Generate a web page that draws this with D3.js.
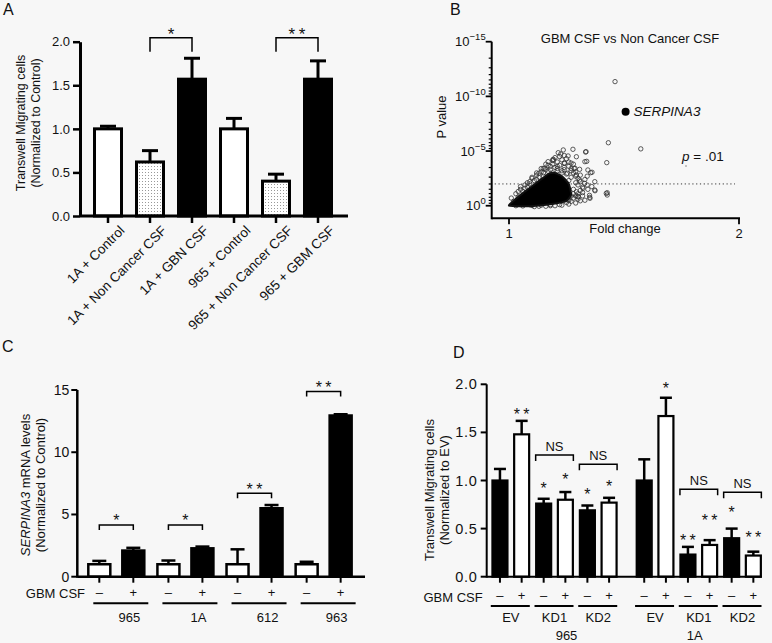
<!DOCTYPE html>
<html><head><meta charset="utf-8">
<script src="https://cdn.jsdelivr.net/npm/d3@7"></script>
<style>
html,body{margin:0;padding:0;background:#f7f7f7;}
svg{display:block;font-family:"Liberation Sans",Arial,Helvetica,sans-serif;}
text{fill:#111;}
</style></head>
<body>
<svg id="fig" width="772" height="643"></svg>
<script>
// ---------------- DATA ----------------
// Panel A
const aCategories = ["1A + Control","1A + Non Cancer CSF","1A + GBN CSF","965 + Control","965 + Non Cancer CSF","965 + GBM CSF"];
const aTreatment = ["Control","Non Cancer CSF","GBM CSF","Control","Non Cancer CSF","GBM CSF"];
const aValues = [1.0, 0.62, 1.57, 1.0, 0.40, 1.57];
const aErrTop = [1.03, 0.75, 1.81, 1.12, 0.48, 1.78];
const aTicks = [0, 0.5, 1.0, 1.5, 2.0];
const aSigFrom = [1, 4], aSigTo = [2, 5], aSigLabel = ["*", "**"], aSigLevel = [2.045, 2.045];

// Panel B (fold change, -log10 p)
const bOutFold = [1.278,1.333,1.225,1.257,1.293,1.191,1.17,1.242,1.338,1.155,1.283,1.307,1.343,1.361,1.13,1.254,1.293,1.307,1.373,1.329,1.322,1.343,1.373,1.293,1.271,1.3,1.257,1.351,1.335,1.33,1.355,1.374,1.352,1.301,1.261,1.214,1.236,1.193,1.287,1.149,1.425,1.432,1.461,1.573,1.427,1.427,1.423];
const bOutExp  = [5.16,4.91,4.73,4.55,4.48,4.12,4.03,3.88,4.06,3.42,3.42,3.33,3.27,3.06,2.97,2.97,2.81,2.35,2.2,2.05,1.59,1.5,1.44,1.28,0.89,0.82,0.52,0.77,4.94,4.03,3.02,1.37,0.68,0.83,0.52,4.85,5.1,4.24,3.42,3.42,3.94,5.76,11.35,5.2,1.19,0.98,1.13];
const bEdgeFold = [1.03,1.05,1.07,1.09,1.1,1.12,1.14,1.16,1.18,1.19,1.21,1.2,1.22,1.23,1.24,1.25,1.26,1.24,1.26,1.27,1.28,1.27,1.28,1.29,1.3,1.31,1.3,1.32,1.31,1.3,1.29,1.28,1.27,1.25,1.22,1.18,1.13,1.1,1.06,1.03,1.15,1.17,1.13,1.11,1.08,1.06,1.04,1.02,1.33,1.34,1.32,1.32,1.28,1.29,1.27,1.25,1.23,1.21,1.2,1.19,1.16,1.24,1.22,
  1.01,1.04,1.07,1.09,1.12,1.15,1.18,1.21,1.24,1.27,1.29,1.31,1.26,1.23,1.21,1.19,1.17,1.14,1.12,1.1,1.08,1.05,1.22,1.25,1.28,1.3,1.33,1.35,1.36,1.34,1.31,1.29,1.26,1.23,1.2,1.18,1.16,1.14,1.11,1.09];
const bEdgeExp  = [1.1,1.5,1.9,2.2,2.5,2.8,3.1,3.3,3.6,3.8,4.0,3.5,3.7,4.2,3.9,4.3,4.0,3.5,3.6,3.9,3.8,3.2,3.0,2.7,2.5,2.2,1.9,1.7,1.4,1.1,0.9,0.7,0.4,0.3,0.1,0.0,-0.05,0.02,-0.02,0.0,3.0,3.15,2.6,2.3,1.7,1.3,0.8,0.4,2.4,1.9,1.2,0.9,1.5,2.1,2.6,2.9,3.2,3.4,4.4,4.2,3.8,4.6,4.5,
  0.7,1.3,1.6,2.0,2.4,2.7,3.3,3.6,3.3,3.4,3.1,2.8,2.3,3.0,3.2,3.0,3.7,3.4,3.0,2.6,2.1,1.75,2.5,1.6,1.1,0.6,0.5,0.95,1.75,2.7,0.45,0.25,0.15,0.05,0.0,0.1,-0.05,0.05,-0.08,0.1];
const bCoreFold = [1.0,1.06,1.12,1.2,1.25,1.27,1.26,1.23,1.2,1.17,1.12,1.06,1.02];
const bCoreExp  = [0.0,-0.05,0.0,0.2,0.45,1.0,2.0,2.7,3.0,2.9,2.1,1.15,0.45];
const bHighlight = {name:"SERPINA3", fold:1.507, exp:8.6};
const bThresholdExp = 2; // p = .01
const bYTicks = [0, 5, 10, 15];
const bXTicks = [1, 2];

// Panel C
const cGroups = ["965","1A","612","963"];
const cMinus = [1.0, 1.0, 1.0, 1.0];
const cMinusErr = [1.27, 1.3, 2.2, 1.2];
const cPlus = [2.1, 2.28, 5.5, 12.95];
const cPlusErr = [2.32, 2.42, 5.76, 13.05];
const cTicks = [0, 5, 10, 15];
const cSigLabel = ["*","*","**","**"];
const cSigLevel = [4.16, 4.16, 6.7, 14.87];

// Panel D
const dGroups = ["EV","KD1","KD2","EV","KD1","KD2"];
const dLines = ["965","965","965","1A","1A","1A"];
const dMinus = [1.0, 0.76, 0.69, 1.0, 0.23, 0.40];
const dMinusErr = [1.12, 0.81, 0.74, 1.22, 0.31, 0.50];
const dPlus = [1.48, 0.80, 0.77, 1.67, 0.33, 0.22];
const dPlusErr = [1.62, 0.88, 0.82, 1.86, 0.38, 0.26];
const dMinusStar = ["", "*", "*", "", "**", "*"];
const dPlusStar = ["**", "*", "*", "*", "**", "**"];
const dMinusStarLevel = [null, 0.953, 0.894, null, 0.416, 0.711];
const dPlusStarLevel = [1.726, 1.05, 0.977, 2.0, 0.624, 0.444];
const dNSLevel = [null, 1.265, 1.17, null, 0.91, 0.877];
const dTicks = [0, 0.5, 1.0, 1.5, 2.0];
const dCellLines = ["965","1A"];

// ---------------- DRAW ----------------
const svg = d3.select("#fig");
svg.append("rect").attr("width",772).attr("height",643).attr("fill","#f7f7f7");
const defs = svg.append("defs");
const pat = defs.append("pattern").attr("id","dots").attr("patternUnits","userSpaceOnUse").attr("width",3).attr("height",3);
pat.append("rect").attr("width",3).attr("height",3).attr("fill","#fff");
pat.append("rect").attr("x",1).attr("y",1).attr("width",1).attr("height",1).attr("fill","#999");

// significance stars: each asterisk is its own text element
function star(g, x, yc, label, fs) {
  const n = label.length, gap = fs*0.6;
  for (let k = 0; k < n; k++) {
    g.append("text").attr("x", x + (k - (n-1)/2)*gap).attr("y", yc + fs*0.58)
     .attr("text-anchor","middle").attr("fill","#000").attr("font-size", fs).text("*");
  }
}
function panelLetter(t, x, y) {
  svg.append("text").attr("x",x).attr("y",y).attr("font-size",16).text(t);
}

// ===== Panel A =====
(function(){
  const g = svg.append("g");
  const y = d3.scaleLinear().domain([0,2]).range([216,41.7]);
  const x = d3.scalePoint().domain(aCategories).range([108,318]);
  const bw = 27;
  const fillFor = t => t==="Control" ? "#fff" : (t==="GBM CSF" ? "#000" : "url(#dots)");
  const ax = g.append("g").attr("transform","translate(80,0)")
    .call(d3.axisLeft(y).tickValues(aTicks).tickFormat(d3.format(".1f")).tickSize(7).tickSizeOuter(0));
  ax.select(".domain").attr("stroke-width",3);
  ax.selectAll(".tick line").attr("stroke-width",2.5);
  ax.selectAll(".tick text").attr("font-size",13).attr("font-family","inherit").attr("fill","#111").attr("x",-10);
  aCategories.forEach((c,i)=>{
    const cx = x(c);
    g.append("line").attr("x1",cx).attr("x2",cx).attr("y1",y(aValues[i])).attr("y2",y(aErrTop[i])).attr("stroke","#000").attr("stroke-width",3);
    g.append("line").attr("x1",cx-8).attr("x2",cx+8).attr("y1",y(aErrTop[i])).attr("y2",y(aErrTop[i])).attr("stroke","#000").attr("stroke-width",3);
    g.append("rect").attr("x",cx-bw/2).attr("width",bw).attr("y",y(aValues[i])).attr("height",y(0)-y(aValues[i]))
      .attr("fill",fillFor(aTreatment[i])).attr("stroke","#000").attr("stroke-width",3);
    g.append("line").attr("x1",cx).attr("x2",cx).attr("y1",y(0)).attr("y2",y(0)+7).attr("stroke","#000").attr("stroke-width",2.5);
    g.append("text").attr("transform",`translate(${cx+14},${y(0)+12}) rotate(-45)`).attr("text-anchor","end")
      .attr("dy","0.35em").attr("font-size",13.5).text(c);
  });
  g.append("line").attr("x1",80).attr("x2",348).attr("y1",y(0)).attr("y2",y(0)).attr("stroke","#000").attr("stroke-width",3);
  aSigFrom.forEach((f,i)=>{
    const x1 = x(aCategories[f]), x2 = x(aCategories[aSigTo[i]]), yy = y(aSigLevel[i]);
    g.append("path").attr("d",`M${x1},${yy+14}V${yy}H${x2}V${yy+14}`).attr("fill","none").attr("stroke","#000").attr("stroke-width",1.5);
    star(g,(x1+x2)/2, yy-8, aSigLabel[i], 17);
  });
  const yl = g.append("text").attr("transform","translate(25,123) rotate(-90)").attr("text-anchor","middle").attr("font-size",12.5);
  yl.append("tspan").attr("x",0).attr("dy","0").text("Transwell Migrating cells");
  yl.append("tspan").attr("x",0).attr("dy","1.2em").text("(Normalized to Control)");
  panelLetter("A",3,15);
})();

// ===== Panel B =====
(function(){
  const g = svg.append("g");
  const x = d3.scaleLinear().domain([1,2]).range([509,739]);
  const y = d3.scaleLinear().domain([-1.15,15]).range([218.3,41.7]);
  const x0 = 491.7;
  const minor = [];
  [0,5,10].forEach(e=>{ for(let k=2;k<=9;k++) minor.push(e + 5*(1-Math.log10(k))); });
  g.selectAll(".mt").data(minor).join("line").attr("x1",x0-3).attr("x2",x0).attr("y1",d=>y(d)).attr("y2",d=>y(d)).attr("stroke","#000").attr("stroke-width",1.2);
  bYTicks.forEach(t=>{
    g.append("line").attr("x1",x0-6).attr("x2",x0).attr("y1",y(t)).attr("y2",y(t)).attr("stroke","#000").attr("stroke-width",1.8);
    const tx = g.append("text").attr("x",x0-6).attr("y",y(t)+4.5).attr("text-anchor","end").attr("font-size",13);
    tx.append("tspan").text("10");
    tx.append("tspan").attr("dy",-6).attr("font-size",9.5).text(t===0 ? "0" : "\u2212"+t);
  });
  bXTicks.forEach(t=>{
    g.append("line").attr("x1",x(t)).attr("x2",x(t)).attr("y1",y(-1.15)).attr("y2",y(-1.15)+6).attr("stroke","#000").attr("stroke-width",1.8);
    g.append("text").attr("x",x(t)).attr("y",238).attr("text-anchor","middle").attr("font-size",13).text(t);
  });
  g.append("line").attr("x1",x0+3).attr("x2",735).attr("y1",y(bThresholdExp)).attr("y2",y(bThresholdExp))
    .attr("stroke","#888").attr("stroke-width",1.6).attr("stroke-dasharray","1.2,2.6");
  const pts = bEdgeFold.map((f,i)=>[f,bEdgeExp[i]]).concat(bOutFold.map((f,i)=>[f,bOutExp[i]]));
  g.selectAll(".pt").data(pts).join("circle").attr("cx",d=>x(d[0])).attr("cy",d=>y(d[1])).attr("r",2.2)
    .attr("fill","none").attr("stroke","#333").attr("stroke-width",0.8);
  const core = bCoreFold.map((f,i)=>[x(f),y(bCoreExp[i])]);
  g.append("path").attr("d", d3.line().curve(d3.curveCardinalClosed.tension(0.5))(core)).attr("fill","#000").attr("stroke","#111").attr("stroke-width",2).attr("stroke-linejoin","round");
  g.append("circle").attr("cx",x(bHighlight.fold)).attr("cy",y(bHighlight.exp)).attr("r",4).attr("fill","#000");
  g.append("text").attr("x",x(bHighlight.fold)+8).attr("y",y(bHighlight.exp)+4.5).attr("font-size",13.5).attr("font-style","italic").text(bHighlight.name);
  g.append("line").attr("x1",x0).attr("x2",x0).attr("y1",y(15)).attr("y2",y(-1.15)+1).attr("stroke","#000").attr("stroke-width",2);
  g.append("line").attr("x1",x0).attr("x2",x(2)+1).attr("y1",y(-1.15)).attr("y2",y(-1.15)).attr("stroke","#000").attr("stroke-width",2);
  g.append("text").attr("x",630).attr("y",43).attr("text-anchor","middle").attr("font-size",13).text("GBM CSF vs Non Cancer CSF");
  g.append("text").attr("x",625).attr("y",233).attr("text-anchor","middle").attr("font-size",13).text("Fold change");
  g.append("text").attr("transform","translate(446,117) rotate(-90)").attr("text-anchor","middle").attr("font-size",13).text("P value");
  const pt = g.append("text").attr("x",682).attr("y",161).attr("font-size",13.5);
  pt.append("tspan").attr("font-style","italic").text("p");
  pt.append("tspan").text(" = .01");
  g.append("circle").attr("cx",686).attr("cy",166).attr("r",0.7).attr("fill","#666");
  panelLetter("B",450,15);
})();

// ===== Panel C =====
(function(){
  const g = svg.append("g");
  const y = d3.scaleLinear().domain([0,15]).range([576.7,390]);
  const gx = d3.scaleBand().domain(cGroups).range([81.75,358.2]);
  const half = 17, bw = 22;
  const x0 = 77.3;
  cTicks.forEach(t=>{
    g.append("line").attr("x1",x0-6).attr("x2",x0).attr("y1",y(t)).attr("y2",y(t)).attr("stroke","#000").attr("stroke-width",2);
    g.append("text").attr("x",x0-8).attr("y",y(t)+5).attr("text-anchor","end").attr("font-size",14).text(t);
  });
  cGroups.forEach((grp,i)=>{
    const c = gx(grp)+gx.bandwidth()/2;
    const bars = [{cx:c-half,v:cMinus[i],e:cMinusErr[i],fill:"#fff",s:"\u2013"},{cx:c+half,v:cPlus[i],e:cPlusErr[i],fill:"#000",s:"+"}];
    bars.forEach(b=>{
      g.append("line").attr("x1",b.cx).attr("x2",b.cx).attr("y1",y(b.v)).attr("y2",y(b.e)).attr("stroke","#000").attr("stroke-width",2.5);
      g.append("line").attr("x1",b.cx-7).attr("x2",b.cx+7).attr("y1",y(b.e)).attr("y2",y(b.e)).attr("stroke","#000").attr("stroke-width",2.5);
      g.append("rect").attr("x",b.cx-bw/2).attr("width",bw).attr("y",y(b.v)).attr("height",y(0)-y(b.v)).attr("fill",b.fill).attr("stroke","#000").attr("stroke-width",2.5);
      g.append("line").attr("x1",b.cx).attr("x2",b.cx).attr("y1",y(0)).attr("y2",y(0)+6).attr("stroke","#000").attr("stroke-width",2);
      g.append("text").attr("x",b.cx).attr("y",597).attr("text-anchor","middle").attr("font-size",13).text(b.s);
    });
    const yy = y(cSigLevel[i]);
    g.append("path").attr("d",`M${c-half},${yy+5}V${yy}H${c+half}V${yy+5}`).attr("fill","none").attr("stroke","#000").attr("stroke-width",1.5);
    star(g,c,yy-8,cSigLabel[i],16);
    g.append("line").attr("x1",c-half-6).attr("x2",c+half+15).attr("y1",603.3).attr("y2",603.3).attr("stroke","#000").attr("stroke-width",2);
    g.append("text").attr("x",c+half-4).attr("y",621.7).attr("text-anchor","middle").attr("font-size",13).text(grp);
  });
  g.append("line").attr("x1",x0).attr("x2",x0).attr("y1",y(15)).attr("y2",y(0)+1).attr("stroke","#000").attr("stroke-width",2.5);
  g.append("line").attr("x1",x0).attr("x2",365).attr("y1",y(0)).attr("y2",y(0)).attr("stroke","#000").attr("stroke-width",2.5);
  g.append("text").attr("x",85).attr("y",598).attr("text-anchor","end").attr("font-size",13).text("GBM CSF");
  const yl = g.append("text").attr("transform","translate(30,485) rotate(-90)").attr("text-anchor","middle").attr("font-size",13);
  yl.append("tspan").attr("font-style","italic").text("SERPINA3");
  yl.append("tspan").text(" mRNA levels");
  g.append("text").attr("transform","translate(44.5,485) rotate(-90)").attr("text-anchor","middle").attr("font-size",13).text("(Normalized to Control)");
  panelLetter("C",2,352);
})();

// ===== Panel D =====
(function(){
  const g = svg.append("g");
  const y = d3.scaleLinear().domain([0,2]).range([576.7,384.3]);
  const slot = dGroups.map((d,i)=> i + (dLines[i]==="1A" ? 0.3 : 0));
  const x = d3.scaleLinear().domain([0,5.3]).range([510.8,742.5]);
  const half = 10.85, bw = 15;
  const x0 = 486.7;
  dTicks.forEach(t=>{
    g.append("line").attr("x1",x0-6).attr("x2",x0).attr("y1",y(t)).attr("y2",y(t)).attr("stroke","#000").attr("stroke-width",2);
    g.append("text").attr("x",x0-9).attr("y",y(t)+5).attr("text-anchor","end").attr("font-size",14.5).attr("letter-spacing",0.8).text(d3.format(".1f")(t));
  });
  dGroups.forEach((grp,i)=>{
    const c = x(slot[i]);
    const bars = [
      {cx:c-half,v:dMinus[i],e:dMinusErr[i],fill:"#000",s:"\u2013",st:dMinusStar[i],sl:dMinusStarLevel[i]},
      {cx:c+half,v:dPlus[i],e:dPlusErr[i],fill:"#fff",s:"+",st:dPlusStar[i],sl:dPlusStarLevel[i]}];
    bars.forEach(b=>{
      g.append("line").attr("x1",b.cx).attr("x2",b.cx).attr("y1",y(b.v)).attr("y2",y(b.e)).attr("stroke","#000").attr("stroke-width",2.5);
      g.append("line").attr("x1",b.cx-6).attr("x2",b.cx+6).attr("y1",y(b.e)).attr("y2",y(b.e)).attr("stroke","#000").attr("stroke-width",2.5);
      g.append("rect").attr("x",b.cx-bw/2).attr("width",bw).attr("y",y(b.v)).attr("height",y(0)-y(b.v)).attr("fill",b.fill).attr("stroke","#000").attr("stroke-width",2.2);
      g.append("line").attr("x1",b.cx).attr("x2",b.cx).attr("y1",y(0)).attr("y2",y(0)+6).attr("stroke","#000").attr("stroke-width",2);
      g.append("text").attr("x",b.cx).attr("y",600).attr("text-anchor","middle").attr("font-size",13).text(b.s);
      if (b.st) star(g,b.cx,y(b.sl),b.st,16);
    });
    if (dNSLevel[i] != null) {
      const yy = y(dNSLevel[i]);
      g.append("path").attr("d",`M${c-half-8},${yy+6}V${yy}H${c+half+8}V${yy+6}`).attr("fill","none").attr("stroke","#000").attr("stroke-width",1.5);
      g.append("text").attr("x",c).attr("y",yy-4).attr("text-anchor","middle").attr("font-size",13).text("NS");
    }
    g.append("line").attr("x1",c-20).attr("x2",c+19).attr("y1",606).attr("y2",606).attr("stroke","#000").attr("stroke-width",2);
    g.append("text").attr("x",c).attr("y",621.7).attr("text-anchor","middle").attr("font-size",13).text(grp);
  });
  const labelShift = {"965": 12, "1A": -4};
  dCellLines.forEach(l=>{
    const idx = slot.filter((s,i)=>dLines[i]===l);
    const cx = x(d3.mean(idx));
    g.append("text").attr("x",cx+labelShift[l]).attr("y",640).attr("text-anchor","middle").attr("font-size",13).text(l);
  });
  g.append("line").attr("x1",x0).attr("x2",x0).attr("y1",y(2)).attr("y2",y(0)+1).attr("stroke","#000").attr("stroke-width",2);
  g.append("line").attr("x1",x0).attr("x2",761.7).attr("y1",y(0)).attr("y2",y(0)).attr("stroke","#000").attr("stroke-width",2);
  g.append("text").attr("x",482.7).attr("y",601.7).attr("text-anchor","end").attr("font-size",13).text("GBM CSF");
  const yl = g.append("text").attr("transform","translate(434,490) rotate(-90)").attr("text-anchor","middle").attr("font-size",13);
  yl.append("tspan").attr("x",0).text("Transwell Migrating cells");
  yl.append("tspan").attr("x",0).attr("dy","1.15em").text("(Normalized to EV)");
  panelLetter("D",453,358);
})();
</script>
</body></html>
